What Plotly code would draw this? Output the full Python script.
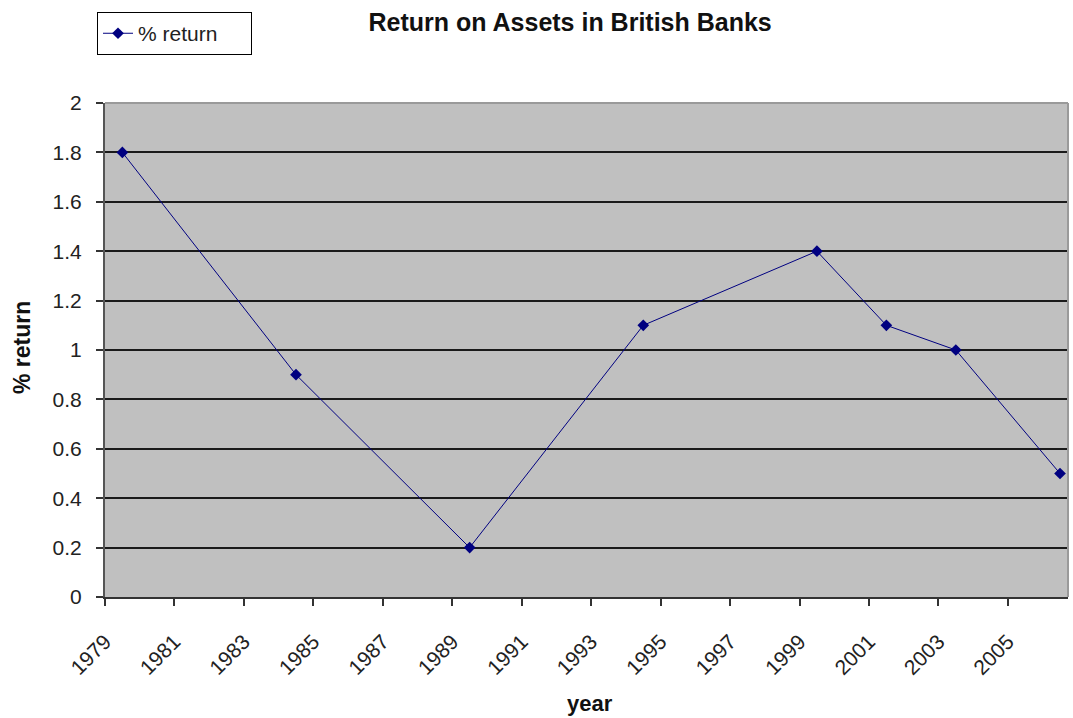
import plotly.graph_objects as go

# Return on assets (%) for British banks, by year
years = [1979, 1984, 1989, 1994, 1999, 2001, 2003, 2006]
pct_return = [1.8, 0.9, 0.2, 1.1, 1.4, 1.1, 1.0, 0.5]

# Year tick labels, every second year
tick_years = list(range(1979, 2006, 2))
y_ticks = [0, 0.2, 0.4, 0.6, 0.8, 1, 1.2, 1.4, 1.6, 1.8, 2]

# Each year is a one-unit slot on the axis; points sit in the middle of their slot
x_pos = [yr + 0.5 for yr in years]

NAVY = "#000080"
FONT = "Liberation Sans, Arial, sans-serif"

fig = go.Figure()
fig.add_trace(go.Scatter(
    x=x_pos, y=pct_return,
    mode="lines+markers",
    name="% return",
    line=dict(color=NAVY, width=1),
    marker=dict(symbol="diamond", size=9, color=NAVY),
))

fig.update_layout(
    width=1073, height=718,
    margin=dict(l=105, r=5, t=103, b=121),
    paper_bgcolor="white",
    plot_bgcolor="#c0c0c0",
    font=dict(family=FONT, color="#222222", size=21),
    showlegend=True,
    legend=dict(
        orientation="h",
        x=-0.0083, y=1.184, xanchor="left", yanchor="top",
        bordercolor="#000000", borderwidth=1,
        bgcolor="white",
        font=dict(size=21, color="#222222"),
        entrywidth=108, entrywidthmode="pixels",
        itemwidth=30,
    ),
    title=dict(
        text="<b>Return on Assets in British Banks</b>",
        x=0.483, xref="paper", xanchor="center",
        y=1 - 22 / 718, yref="container", yanchor="middle",
        font=dict(size=25, color="#111111", family=FONT),
    ),
)

fig.update_xaxes(
    range=[1979, 2006.73],
    tickmode="array", tickvals=tick_years,
    ticktext=[str(t) for t in tick_years],
    tickangle=-45,
    ticks="outside", ticklen=7, tickwidth=1.5, tickcolor="#333333",
    ticklabelstandoff=15,
    showgrid=False, zeroline=False,
    showline=True, linecolor="#333333", linewidth=2,
    tickfont=dict(size=21, color="#222222"),
)
fig.update_yaxes(
    range=[0, 2],
    tickmode="array", tickvals=y_ticks,
    ticktext=["0", "0.2", "0.4", "0.6", "0.8", "1", "1.2", "1.4", "1.6", "1.8", "2"],
    ticks="outside", ticklen=7, tickwidth=1.5, tickcolor="#333333",
    ticklabelstandoff=10,
    showgrid=True, gridcolor="#1a1a1a", gridwidth=1.5,
    zeroline=False,
    showline=True, linecolor="#555555", linewidth=2,
    tickfont=dict(size=21, color="#222222"),
)

# Light plot-area border along the top and right edges
fig.add_shape(type="line", xref="paper", yref="paper", x0=0, x1=1, y0=1, y1=1,
              line=dict(color="#9a9a9a", width=2), layer="above")
fig.add_shape(type="line", xref="paper", yref="paper", x0=1, x1=1, y0=0, y1=1,
              line=dict(color="#9a9a9a", width=2), layer="above")

# Axis titles
fig.add_annotation(text="<b>% return</b>", xref="paper", yref="paper",
                   x=-0.0862, y=0.506, xanchor="center", yanchor="middle",
                   textangle=-90, showarrow=False,
                   font=dict(size=23, color="#111111", family=FONT))
fig.add_annotation(text="<b>year</b>", xref="paper", yref="paper",
                   x=0.5036, y=-0.2146, xanchor="center", yanchor="middle",
                   showarrow=False,
                   font=dict(size=22, color="#111111", family=FONT))

fig.write_html("out.html")
